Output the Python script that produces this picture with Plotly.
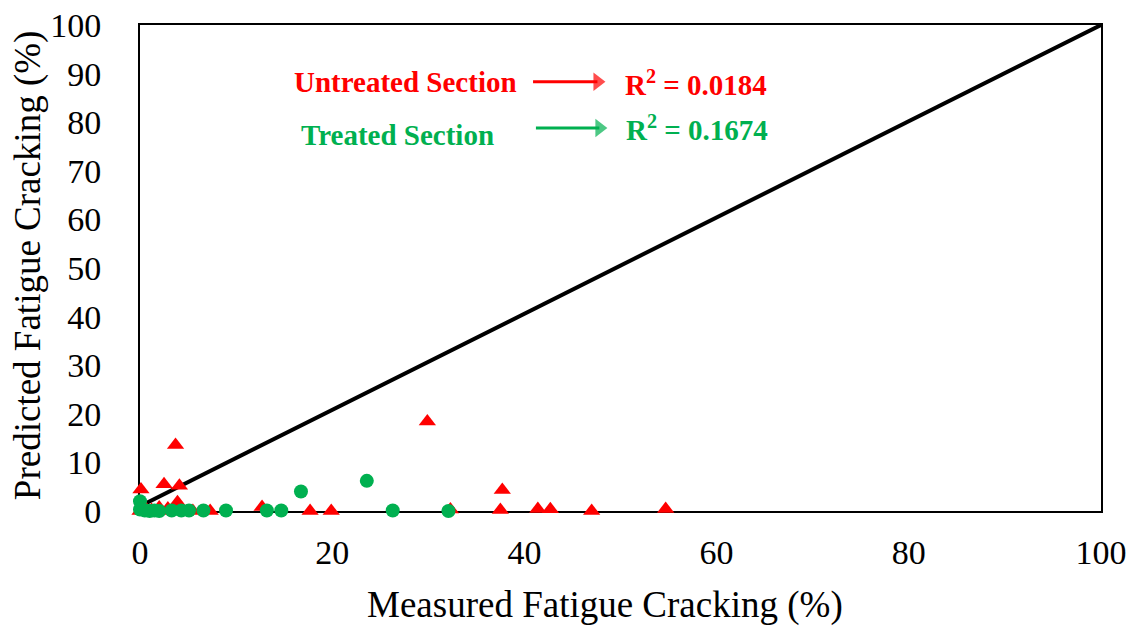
import plotly.graph_objects as go

# Untreated section (red triangles)
untreated_measured = [0.1, 3.7, 2.5, 4.1, 3.9, 2.0, 2.9, 2.8, 5.5, 7.3, 12.7, 17.7, 19.9,
                      29.9, 32.3, 37.7, 37.5, 41.4, 42.7, 47.0, 54.7, 0.0, 1.2, 0.6]
untreated_predicted = [4.4, 13.6, 5.5, 5.2, 1.8, 0.7, 0.5, 0.0, 0.0, 0.0, 0.8, 0.0, 0.0,
                       18.4, 0.3, 4.3, 0.2, 0.4, 0.35, 0.0, 0.4, 0.0, 0.2, 0.5]

# Treated section (green circles)
treated_measured = [0.0, 0.0, 0.5, 1.0, 1.5, 2.0, 3.3, 4.3, 5.1, 6.6, 8.95, 13.2, 14.7,
                    16.75, 23.6, 26.3, 32.1]
treated_predicted = [2.0, 0.3, 0.1, 0.0, 0.1, 0.0, 0.1, 0.1, 0.1, 0.1, 0.1, 0.1, 0.1,
                     4.0, 6.2, 0.1, 0.0]

# Line of equality
line_x = [0.0, 100.0]
line_y = [1.0, 100.0]

# Arrow lines pointing to R² labels
red_arrow_x = [40.9, 47.6]
red_arrow_y = [88.3, 88.3]
green_arrow_x = [41.2, 47.8]
green_arrow_y = [78.8, 78.8]

x_ticks = [0, 20, 40, 60, 80, 100]
y_ticks = [0, 10, 20, 30, 40, 50, 60, 70, 80, 90, 100]

RED = "#FF0000"
GREEN = "#00B050"
FONT = "Liberation Serif"

fig = go.Figure()
fig.add_trace(go.Scatter(x=line_x, y=line_y, mode="lines",
                         line=dict(color="black", width=4), showlegend=False,
                         cliponaxis=False))
fig.add_trace(go.Scatter(x=untreated_measured, y=untreated_predicted, mode="markers",
                         marker=dict(symbol="triangle-up", size=15, color=RED),
                         showlegend=False, cliponaxis=False))
fig.add_trace(go.Scatter(x=treated_measured, y=treated_predicted, mode="markers",
                         marker=dict(symbol="circle", size=14, color=GREEN),
                         showlegend=False, cliponaxis=False))

for ax_, ay_, col in [(red_arrow_x, red_arrow_y, RED), (green_arrow_x, green_arrow_y, GREEN)]:
    fig.add_trace(go.Scatter(x=ax_, y=ay_, mode="lines+markers",
                             line=dict(color=col, width=3),
                             marker=dict(symbol=["circle", "triangle-right"], size=[0, 16],
                                         color=col, line=dict(width=0)),
                             showlegend=False, cliponaxis=False))

annots = [
    dict(x=27.6, y=88.3, text="<b>Untreated Section</b>", font=dict(color=RED, size=29, family=FONT)),
    dict(x=26.8, y=77.4, text="<b>Treated Section</b>", font=dict(color=GREEN, size=29, family=FONT)),
    dict(x=57.9, y=88.0, text="<b>R<sup>2</sup> = 0.0184</b>", font=dict(color=RED, size=29, family=FONT)),
    dict(x=58.0, y=78.9, text="<b>R<sup>2</sup> = 0.1674</b>", font=dict(color=GREEN, size=29, family=FONT)),
]
for a in annots:
    fig.add_annotation(xref="x", yref="y", showarrow=False, **a)

# Axis titles as annotations for exact placement
fig.add_annotation(xref="paper", yref="paper", x=0.4839, y=-0.193, showarrow=False,
                   text="Measured Fatigue Cracking (%)", xanchor="center", yanchor="middle",
                   font=dict(size=37, family=FONT, color="black"))
fig.add_annotation(xref="paper", yref="paper", x=-0.1165, y=0.506, showarrow=False,
                   text="Predicted Fatigue Cracking (%)", textangle=-90,
                   xanchor="center", yanchor="middle",
                   font=dict(size=37, family=FONT, color="black"))

# page body adds an 8px offset; compensate in margins
fig.update_layout(
    width=1137, height=630,
    margin=dict(l=132, r=44, t=17, b=127, autoexpand=False),
    paper_bgcolor="white", plot_bgcolor="white",
    font=dict(family=FONT, color="black"),
    showlegend=False,
)
fig.update_xaxes(range=[0, 100], tickvals=x_ticks, ticks="", showgrid=False, zeroline=False,
                 showline=True, linecolor="black", linewidth=2, mirror=True,
                 tickfont=dict(size=34, family=FONT, color="black"), ticklabelstandoff=10,
                 ticklabeloverflow="allow",
                 automargin=False, layer="below traces")
fig.update_yaxes(range=[0, 100], tickvals=y_ticks, ticks="", showgrid=False, zeroline=False,
                 showline=True, linecolor="black", linewidth=2, mirror=True,
                 tickfont=dict(size=34, family=FONT, color="black"), ticklabelstandoff=30,
                 ticklabeloverflow="allow",
                 automargin=False, layer="below traces")

fig.write_html("out.html")
